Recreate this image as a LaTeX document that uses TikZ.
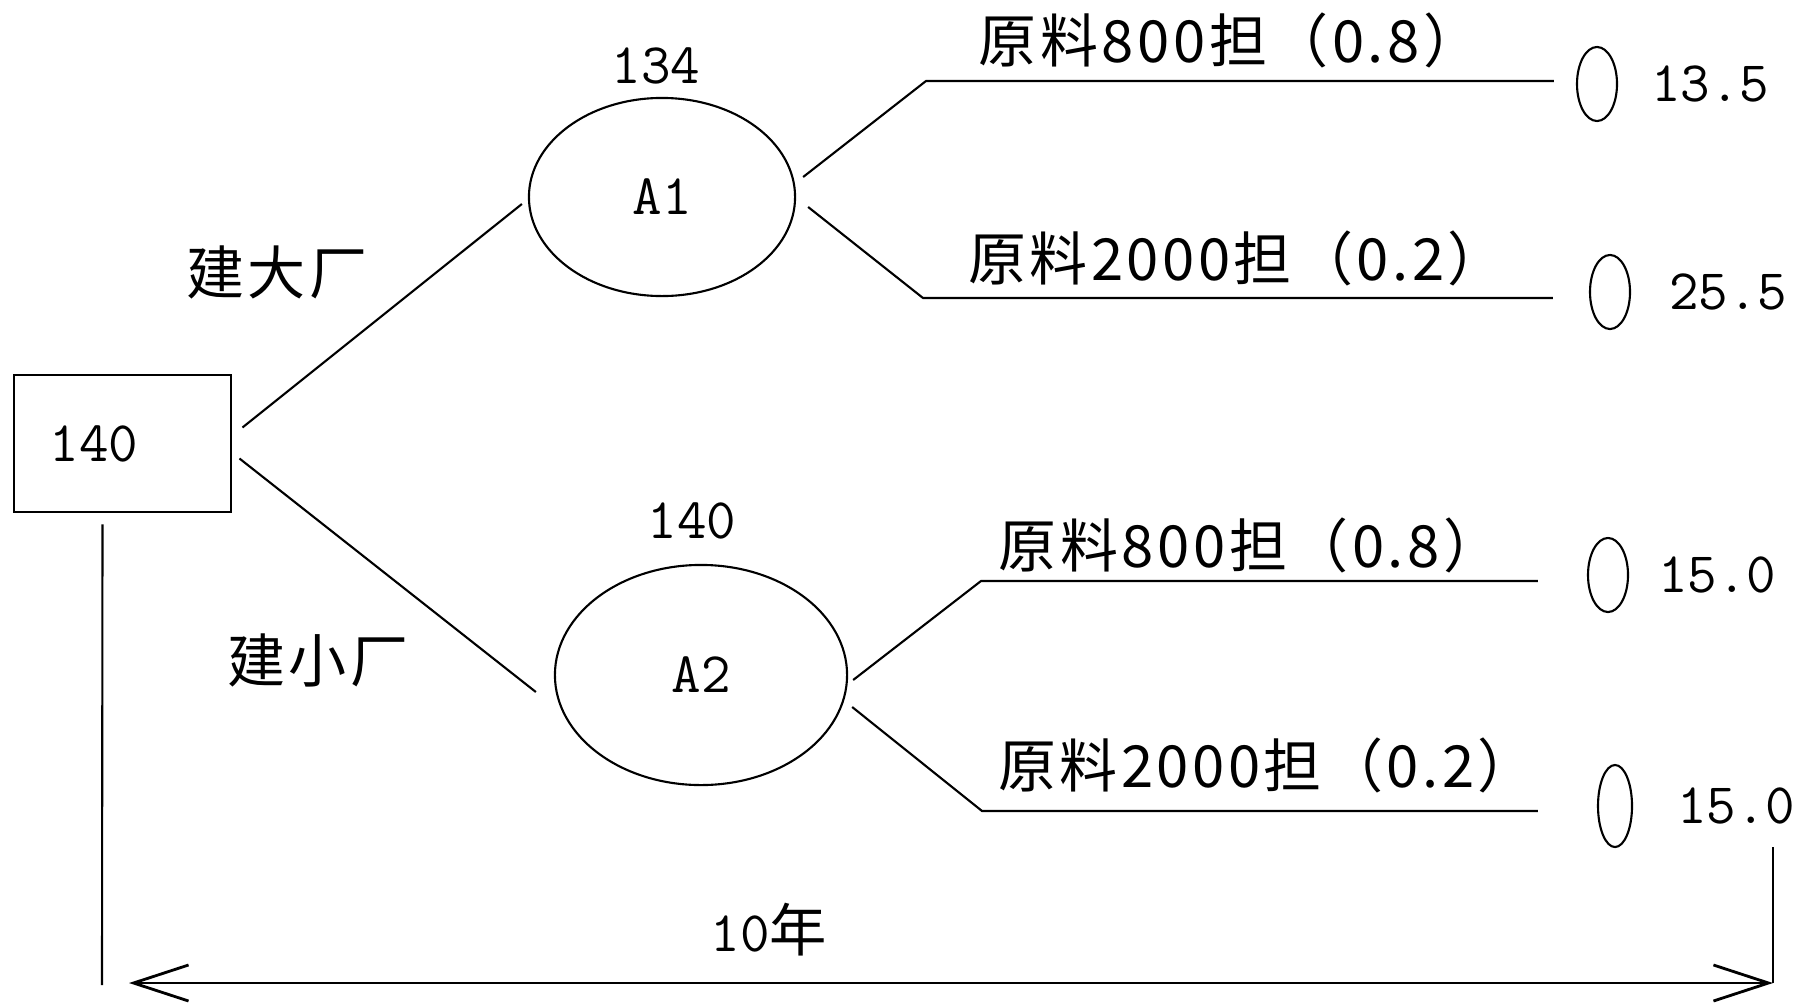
\documentclass[tikz,border=0pt]{standalone}
\usepackage{fontspec}
\newfontfamily\cjk[LetterSpace=6]{Noto Sans CJK SC}
\usetikzlibrary{arrows.meta,positioning,shapes.geometric}

\begin{document}
\begin{tikzpicture}
	[x=0.01cm,y=-0.01cm,line width=0.6pt,>={Straight Barb[length=0.55cm,width=0.36cm]},
		num/.style={font=\ttfamily\fontsize{16.3}{18}\selectfont},
		cn/.style={font=\cjk\fontsize{16.5}{18}\selectfont},
		dec node/.style={draw,line width=0.8pt,minimum width=2.17cm,minimum height=1.37cm,text width=1.45cm,inner xsep=0.36cm,align=left,num},
		chance node/.style={ellipse,draw,inner sep=0pt,num},
		leaf node/.style={ellipse,draw,inner sep=0pt,minimum width=0.4cm,minimum height=0.74cm},
		branch/.style={line width=0.8pt}]

	\useasboundingbox (0,0) rectangle (1803,1006);

	\node[dec node] (root) at (122.5,443.5) {140};
	\node[chance node,minimum width=2.66cm,minimum height=1.98cm] (A1) at (662,197) {A1};
	\node[chance node,minimum width=2.92cm,minimum height=2.2cm] (A2) at (701,675) {A2};
	\node[num] (e1) at (656,66) {134};
	\node[num] (e2) at (692,521) {140};

	\node[cn] (big) at (277,272) {建大厂};
	\node[cn] (small) at (318,660) {建小厂};

	\node[leaf node] (L1) at (1597,84) {};
	\node[leaf node] (L2) at (1610,292) {};
	\node[leaf node] (L3) at (1608,575) {};
	\node[leaf node,minimum width=0.34cm,minimum height=0.82cm] (L4) at (1615,806) {};
	\node[num,inner sep=0pt,right=0.32cm of L1] (v1) {13.5};
	\node[num,inner sep=0pt,right=0.37cm of L2] (v2) {25.5};
	\node[num,inner sep=0pt,right=0.28cm of L3] (v3) {15.0};
	\node[num,inner sep=0pt,right=0.43cm of L4] (v4) {15.0};

	\node[cn] (p11) at (1230,40) {原料800担（0.8）};
	\node[cn] (p12) at (1237,258) {原料2000担（0.2）};
	\node[cn] (p21) at (1250,545) {原料800担（0.8）};
	\node[cn] (p22) at (1267,765) {原料2000担（0.2）};

	\coordinate (b1) at (926,81);
	\coordinate (b2) at (923,298);
	\coordinate (b3) at (981,581);
	\coordinate (b4) at (982,811);
	\coordinate (tL) at (102,985);
	\coordinate (tR) at (1773,983);

	\draw ([shift={(10,-16)}]root.east) -- ([shift={(-6,7)}]A1.west);
	\draw ([shift={(7,15)}]root.east) -- ([shift={(-18,17)}]A2.west);
	\draw ([shift={(7,-20)}]A1.east) -- (b1) -- ([shift={(-22,-3)}]L1.west);
	\draw ([shift={(12,10)}]A1.east) -- (b2) -- ([shift={(-36,6)}]L2.west);
	\draw ([shift={(5,5)}]A2.east) -- (b3) -- ([shift={(-49,6)}]L3.west);
	\draw ([shift={(4,32)}]A2.east) -- (b4) -- ([shift={(-59,5)}]L4.west);

	% time span
	\draw ([shift={(-20,11)}]root.south) -- (tL);
	\draw[<->,branch] ([shift={(27,-2)}]tL) -- (tR);
	\draw (tR) -- ++(0,-136);
	\node[num] (yrs) at (769,930) {10{\cjk 年}};

\end{tikzpicture}
\end{document}
